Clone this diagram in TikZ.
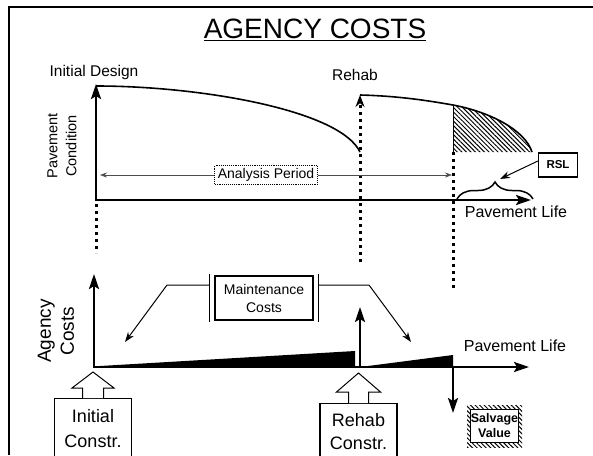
\documentclass[tikz,border=0pt]{standalone}
\usepackage{fontspec}
\setmainfont{Liberation Sans}
\usetikzlibrary{arrows.meta,patterns.meta,decorations.pathreplacing,positioning}

\tikzset{
	axis/.style={line width=2.4pt, -{Stealth[length=15pt,width=10pt,inset=3pt]}},
	curve/.style={line width=1.6pt},
	marker/.style={line width=3pt, dash pattern=on 3pt off 4pt},
	textbox/.style={draw, line width=1.2pt, align=center, inner sep=0pt},
	pointer/.style={line width=1pt, -{Stealth[length=10pt,width=7pt]}},
	blockarrow/.style={draw, line width=1pt, fill=white},
	hatch/.style={pattern={Lines[angle=-45,distance=3.2pt,line width=1pt]}},
}

\begin{document}
\begin{tikzpicture}[x=1pt,y=-1pt]
			\useasboundingbox (0,0) rectangle (593,455);
			\draw[line width=1.5pt] (9,455) -- (9,7) -- (593,7);
			
			\node[font={\fontsize{28}{32}\selectfont}] (title) at (315,30) {\underline{AGENCY COSTS}};
			
			% upper chart: condition over time
			\draw[axis] (96,201) -- (96,84);
			\draw[axis] (95,200) -- (531,200);
			\node[font={\fontsize{15.5}{18}\selectfont}] (design) at (94,72) {Initial Design};
			\node[font={\fontsize{15.5}{18}\selectfont}] (rehab) at (355,75) {Rehab};
			\node[rotate=90, align=center, font={\fontsize{14.5}{19}\selectfont}] (cond) at (62,146) {Pavement\\Condition};
			\node[font={\fontsize{16}{18}\selectfont}] (life1) at (516,212) {Pavement Life};
			
			% deterioration before and after the overlay
			\draw[curve] (96,86) .. controls (200,86) and (340,110) .. (360,152);
			\draw[curve] (360,95) .. controls (400,96) and (430,101) .. (453,105);
			\fill[hatch] (453,105) .. controls (490,112) and (525,130) .. (532,152) -- (453,152) -- cycle;
			\draw[curve] (453,105) .. controls (490,112) and (525,130) .. (532,152);
			\draw[line width=1pt] (453,105) -- (453,152);
			
			% time markers
			\draw[marker] (96,204) -- (96,253);
			\draw[marker, -{Stealth[length=12pt,width=9pt]}] (360,262) -- (360,95);
			\draw[marker] (453,152) -- (453,290);
			
			\node[draw, densely dotted, line width=0.9pt, inner sep=3pt, font={\fontsize{14}{16}\selectfont}] (period) at (266,175) {Analysis Period};
			\coordinate (p0) at (100,175);
			\coordinate (p1) at (452,175);
			\draw[gray!60!black, line width=0.6pt, -{Stealth[length=7pt,width=5pt]}] (period.west) -- (p0);
			\draw[gray!60!black, line width=0.6pt, -{Stealth[length=7pt,width=5pt]}] (period.east) -- (p1);
			
			% remaining service life
			\draw[line width=1.5pt, decorate, decoration={brace, amplitude=17pt}] (457,199) -- (533,199);
			\coordinate (bracetip) at (500,179);
			\node[textbox, minimum width=39pt, minimum height=24pt, font={\bfseries\fontsize{11.5}{13}\selectfont}] (rsl) at (558,165) {RSL};
			\draw[pointer] ([yshift=4pt]rsl.west) -- (bracetip);
			
			% lower chart: agency costs over time
			\draw[axis] (94,368) -- (94,274);
			\draw[axis] (93,367) -- (529,367);
			\node[rotate=90, align=center, font={\fontsize{19}{23}\selectfont}] (costs) at (56,331) {Agency\\Costs};
			\node[font={\fontsize{16}{18}\selectfont}] (life2) at (515,346) {Pavement Life};
			
			\fill (100,366) -- (355,351) -- (355,366) -- cycle;
			\fill (368,366) -- (453,355) -- (453,366) -- cycle;
			
			\coordinate (rc) at (360,307);
			\coordinate (sv) at (453,413);
			\draw[axis] (360,368) -- (rc);
			\draw[axis] (453,366) -- (sv);
			
			\node[textbox, minimum width=98pt, minimum height=44pt, font={\fontsize{14}{18}\selectfont}] (maint) at (264,298) {Maintenance\\Costs};
			\draw[line width=1.2pt] ([xshift=-5pt,yshift=1pt]maint.north west) -- ([xshift=-5pt,yshift=-1pt]maint.south west);
			\draw[line width=1.2pt] ([xshift=5pt,yshift=1pt]maint.north east) -- ([xshift=5pt,yshift=-1pt]maint.south east);
			\coordinate (m0) at (125,342);
			\coordinate (m1) at (411,342);
			\draw[pointer] ([xshift=-5pt,yshift=13pt]maint.west) -- (167,285) -- (m0);
			\draw[pointer] ([xshift=5pt,yshift=13pt]maint.east) -- (369,285) -- (m1);
			
			% salvage value
			\fill[hatch] (467,405) rectangle (522,447);
			\node[draw, fill=white, line width=0.8pt, minimum width=46pt, minimum height=33pt, inner sep=0pt, align=center, font={\bfseries\fontsize{12.5}{15}\selectfont}] (salvage) at (494.5,426) {Salvage\\Value};
			
			% construction events
			\node[textbox, minimum width=77pt, minimum height=59pt, anchor=north, font={\fontsize{18}{25}\selectfont}] (initc) at (93,398) {Initial\\Constr.};
			\draw[blockarrow] ([xshift=-10.5pt]initc.north) -- ++(0,-10) -- ++(-10.5,0) -- ++(21,-16) -- ++(21,16) -- ++(-10.5,0) -- ++(0,10);
			\node[textbox, minimum width=77pt, minimum height=55pt, anchor=north, font={\fontsize{18}{23}\selectfont}] (rehabc) at (358.5,403) {Rehab\\Constr.};
			\draw[blockarrow] ([xshift=-10pt]rehabc.north) -- ++(0,-11) -- ++(-12,0) -- ++(22,-19) -- ++(22,19) -- ++(-12,0) -- ++(0,11);
			\end{tikzpicture}
\end{document}
